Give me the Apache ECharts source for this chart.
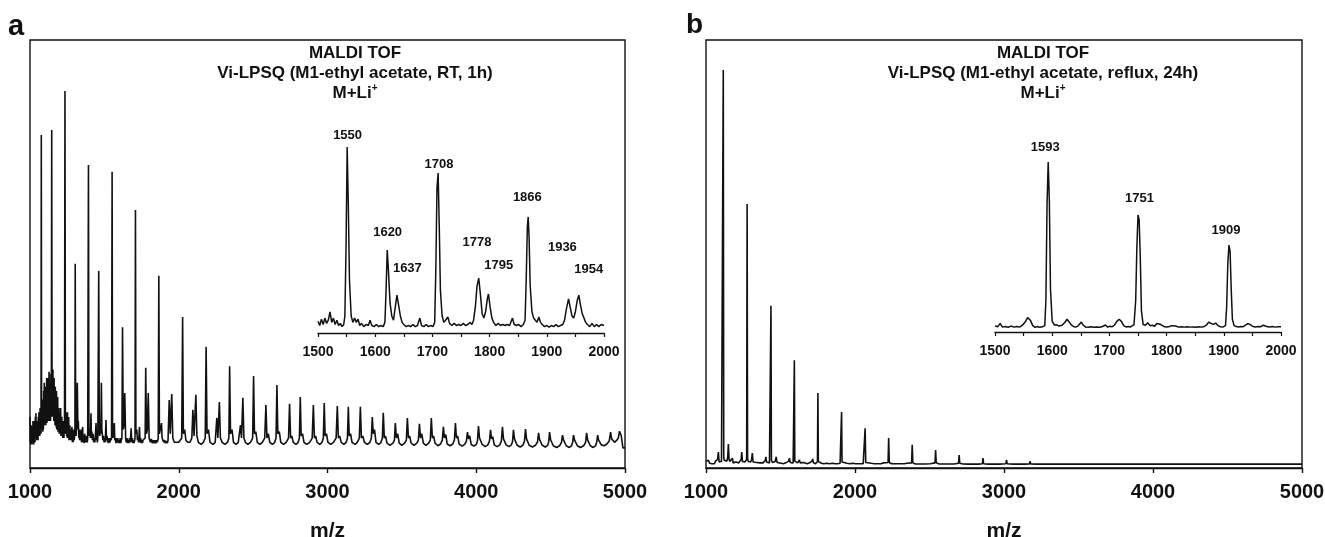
<!DOCTYPE html>
<html>
<head>
<meta charset="utf-8">
<script src="https://cdn.jsdelivr.net/npm/echarts@6/dist/echarts.min.js"></script>
<style>
  html, body { margin: 0; background: #fff; }
  #chart { width: 1325px; height: 537px; }
</style>
</head>
<body>
<div id="chart"></div>
<script>
// m/z axis ranges
const mainRange = [1000, 5000];
const mainStep = 1000;
const insetRange = [1500, 2000];
const insetStep = 100;

const titleA = ['MALDI TOF', 'Vi-LPSQ (M1-ethyl acetate, RT, 1h)', 'M+Li'];
const titleB = ['MALDI TOF', 'Vi-LPSQ (M1-ethyl acetate, reflux, 24h)', 'M+Li'];

// spectrum a, full range  [m/z, intensity]
const spectrumA = [
  [1000, 11.9], [1002, 6], [1004, 9], [1006, 5.5], [1008, 10], [1010, 6], [1012, 8], [1014, 5.5], [1016, 9.5], [1018, 6],
  [1020, 11], [1022, 6.5], [1024, 8], [1026, 5.5], [1028, 11], [1030, 6.5], [1032, 9], [1034, 6], [1036, 12], [1038, 7],
  [1040, 12.8], [1042, 7], [1044, 10], [1046, 6.5], [1048, 11], [1050, 7], [1052, 9], [1054, 6.5], [1056, 12], [1058, 7.5],
  [1060, 13], [1062, 8], [1064, 11], [1066, 7.5], [1068, 14], [1070, 8], [1072, 10], [1074, 8], [1076, 77.8], [1078, 9],
  [1080, 15], [1082, 9], [1084, 14], [1086, 8.5], [1088, 16], [1090, 9], [1092, 18], [1094, 10], [1096, 19.9], [1098, 10],
  [1100, 17], [1102, 11], [1104, 19], [1106, 10], [1108, 17.5], [1110, 11], [1112, 21], [1114, 10.5], [1116, 18], [1118, 12],
  [1120, 21], [1122, 11], [1124, 20], [1126, 12], [1128, 22.5], [1130, 11], [1132, 22], [1134, 12], [1136, 20], [1138, 11],
  [1140, 17], [1142, 12], [1143.5, 13], [1146, 79], [1148.5, 13], [1150, 22], [1152, 12], [1154, 23], [1156, 12], [1158, 20],
  [1160, 11], [1162, 21], [1164, 11], [1166, 18], [1168, 10], [1170, 19], [1172, 10], [1174, 17], [1176, 9.5], [1178, 18],
  [1180, 9], [1182, 15], [1184, 9], [1186, 16.6], [1188, 8.5], [1190, 13], [1192, 9], [1194, 14], [1196, 8], [1198, 12],
  [1200, 8], [1202, 13], [1204, 8], [1206, 14], [1208, 7.5], [1210, 11], [1212, 8], [1214, 12], [1216, 7.5], [1218, 10],
  [1220, 7], [1222, 11], [1224, 7.5], [1226, 10], [1228, 7], [1230, 9], [1232, 8], [1235, 88.1], [1238, 9], [1240, 12],
  [1242, 8], [1244, 13], [1246, 7.5], [1248, 11], [1250, 7], [1252, 13], [1254, 7], [1256, 10], [1258, 7], [1260, 11.9],
  [1262, 6.5], [1264, 9], [1266, 6.5], [1268, 10], [1270, 6.5], [1273, 9], [1276, 6.5], [1279, 8], [1282, 9.6], [1285, 6],
  [1288, 8], [1291, 6], [1294, 9], [1297, 6.5], [1300, 7.5], [1302, 8],
  [1304, 47.7], [1307, 10], [1310, 7.5], [1314, 12], [1318, 19.9], [1322, 9], [1325, 11], [1328, 7], [1331, 9], [1334, 6.5],
  [1337, 8.5], [1340, 6.5], [1343, 9], [1346, 6], [1350, 8], [1354, 9.6], [1357, 6], [1360, 7.5], [1364, 5.8], [1368, 8],
  [1372, 6], [1375, 7.5], [1378, 6], [1382, 7.5], [1385, 6], [1388, 7], [1390, 7], [1393, 70.8], [1396, 8], [1399, 7.5],
  [1402, 9], [1406, 7], [1410, 12.8], [1413, 7], [1416, 8.5], [1420, 6.5], [1424, 8], [1428, 6], [1432, 7], [1436, 6],
  [1440, 8], [1444, 10.5], [1447, 6.5], [1450, 7.5], [1453, 6], [1456, 7], [1458, 7], [1462, 46], [1466, 8], [1469, 7.5],
  [1472, 9], [1476, 8], [1480, 19.9], [1483, 9], [1486, 8], [1490, 6.5], [1494, 7.5], [1498, 6], [1502, 7], [1506, 6],
  [1511, 11.2], [1514, 6.5], [1518, 7.5], [1522, 6], [1526, 7], [1530, 5.8], [1534, 7], [1538, 6], [1542, 7], [1546, 6.5],
  [1548, 7], [1552, 69.2], [1555, 8], [1558, 7], [1562, 8.5], [1567, 10.5], [1570, 6.5], [1574, 7], [1578, 5.8], [1582, 7],
  [1586, 6], [1590, 7], [1594, 5.8], [1598, 6.5], [1602, 5.8], [1606, 7], [1610, 5.8], [1614, 6.5], [1618, 7],
  [1622, 32.9], [1627, 9], [1632, 10], [1637, 17.5], [1643, 7], [1647, 6], [1652, 7], [1656, 5.8], [1660, 6.5], [1664, 5.8],
  [1668, 7], [1672, 6], [1676, 7], [1680, 9.3], [1684, 6], [1688, 7], [1692, 5.8], [1696, 6.5], [1700, 5.8], [1704, 6.5],
  [1706, 7], [1709, 60.3], [1712, 8], [1718, 9], [1722, 6.5], [1726, 7], [1730, 6], [1736, 9.6], [1740, 6], [1744, 7],
  [1748, 5.8], [1752, 6.5], [1756, 5.8], [1760, 6.5], [1766, 6.5], [1774, 7], [1778, 23.4], [1783, 8], [1789, 9],
  [1795, 17.5], [1801, 7], [1805, 6.5], [1810, 6], [1816, 6.8], [1822, 5.8], [1828, 6.5], [1834, 5.8], [1840, 6.5], [1846, 5.8],
  [1852, 6.5], [1856, 6], [1862, 7], [1866, 44.9], [1870, 8], [1876, 8], [1884, 10.5], [1888, 7], [1893, 7], [1899, 6],
  [1905, 6.5], [1911, 5.8], [1918, 6.3], [1924, 5.8], [1928, 6.5],
  [1936, 15.9], [1943, 8], [1953, 17.3], [1960, 7], [1970, 6], [1985, 6], [2000, 6], [2012, 6], [2020, 7], [2026, 35.3],
  [2031, 8], [2040, 9], [2048, 6.5], [2060, 6], [2075, 6], [2088, 7], [2095, 13.6], [2103, 7.5], [2115, 17.1], [2122, 7.5],
  [2132, 6], [2150, 5.5], [2165, 6], [2178, 7], [2184, 28.3], [2190, 8], [2200, 9], [2210, 6], [2230, 5.5], [2245, 6],
  [2256, 11.7], [2263, 7], [2273, 15.4], [2280, 7], [2292, 6], [2310, 5.5], [2328, 6], [2337, 7], [2342, 23.8], [2348, 8],
  [2358, 9], [2368, 6], [2385, 5.5], [2400, 6], [2415, 10], [2422, 7], [2431, 16.4], [2438, 7], [2448, 6], [2465, 5.5],
  [2482, 6], [2497, 7], [2503, 21.5], [2509, 8], [2518, 8.5], [2528, 6], [2545, 5.5], [2562, 6], [2578, 7], [2586, 14.7],
  [2593, 7], [2602, 8], [2612, 6], [2630, 5.5], [2645, 6], [2654, 7], [2660, 19.4], [2666, 8], [2676, 8.5], [2686, 6],
  [2705, 5.5], [2722, 6], [2738, 7], [2745, 15], [2752, 7], [2760, 7.5], [2770, 6], [2788, 5.5], [2803, 6], [2811, 7],
  [2817, 16.6], [2823, 7.5], [2832, 8], [2842, 6], [2860, 5.5], [2880, 6], [2897, 7], [2905, 14.7], [2912, 7], [2920, 7.5],
  [2930, 6], [2948, 5.5], [2963, 6], [2972, 7], [2978, 15.2], [2984, 7.5], [2993, 8], [3003, 6], [3022, 5.5], [3040, 6],
  [3058, 7], [3066, 14.5], [3073, 7], [3082, 7.5], [3092, 6], [3110, 5.5], [3126, 6], [3134, 7], [3140, 14.3], [3146, 7.5],
  [3155, 8], [3165, 6], [3185, 5.5], [3200, 6], [3214, 7], [3221, 14.3], [3228, 7], [3237, 7.5], [3248, 6], [3268, 5.5],
  [3285, 6], [3295, 7], [3301, 11.9], [3308, 8], [3316, 9], [3326, 6], [3345, 5.5], [3360, 6], [3369, 7], [3375, 12.9],
  [3382, 7], [3390, 7.5], [3400, 5.8], [3420, 5.3], [3440, 5.8], [3450, 6.5], [3456, 10.5], [3463, 7], [3472, 8], [3482, 5.8],
  [3500, 5.3], [3518, 5.8], [3530, 6.5], [3537, 11.7], [3544, 7], [3552, 7.5], [3562, 5.8], [3582, 5.3], [3600, 5.8], [3611, 6.5],
  [3618, 10.3], [3625, 7], [3634, 8], [3644, 5.8], [3662, 5.3], [3680, 5.8], [3691, 6.5], [3698, 11.7], [3705, 7], [3713, 7.5],
  [3723, 5.8], [3742, 5.2], [3760, 5.6], [3772, 6.5], [3779, 9.6], [3786, 7], [3795, 7.8], [3805, 5.6], [3824, 5.2], [3842, 5.6],
  [3853, 6.5], [3860, 10.5], [3867, 7], [3875, 7.5], [3885, 5.6], [3905, 5.1], [3922, 5.5], [3934, 6.3], [3941, 8.4], [3948, 6.8],
  [3956, 7.5], [3966, 5.5], [3985, 5.1], [4000, 5.5], [4008, 6.3], [4015, 9.8], [4022, 7], [4030, 7.2], [4040, 5.5], [4060, 5.0],
  [4078, 5.4], [4089, 6.3], [4096, 8.9], [4103, 6.8], [4111, 7.3], [4121, 5.4], [4140, 5.0], [4158, 5.4], [4169, 6.3], [4176, 9.6],
  [4183, 6.8], [4191, 7.2], [4201, 5.4], [4220, 5.0], [4236, 5.4], [4244, 6.2], [4250, 8.9], [4257, 6.8], [4265, 7.2], [4275, 5.3],
  [4295, 4.9], [4313, 5.3], [4324, 6.2], [4331, 9.1], [4338, 6.8], [4346, 7.1], [4356, 5.3], [4378, 4.9], [4398, 5.3], [4412, 6.1],
  [4419, 8.2], [4426, 6.6], [4434, 7.0], [4444, 5.3], [4464, 4.9], [4480, 5.3], [4487, 6.1], [4493, 8.4], [4500, 6.6], [4508, 7.0],
  [4518, 5.2], [4540, 4.8], [4560, 5.2], [4573, 6.0], [4580, 7.7], [4587, 6.5], [4595, 6.9], [4605, 5.2], [4625, 4.8], [4640, 5.2],
  [4648, 6.0], [4654, 7.7], [4661, 6.5], [4669, 6.9], [4680, 5.2], [4700, 4.8], [4722, 5.2], [4735, 6.0], [4742, 8.2], [4749, 6.5],
  [4757, 6.9], [4767, 5.2], [4786, 4.8], [4802, 5.2], [4810, 6.0], [4816, 7.7], [4823, 6.5], [4831, 6.9], [4841, 5.4], [4860, 5.2],
  [4878, 5.6], [4894, 6.3], [4903, 8.4], [4910, 6.8], [4920, 7.2], [4930, 6.0], [4945, 6.5], [4955, 7.0], [4963, 8.6], [4975, 7.5],
  [4986, 4.7], [5000, 4.7]
];

// spectrum b, full range
const spectrumB = [
  [1000, 1.6], [1008, 1.2], [1016, 1.8], [1024, 1.1], [1032, 1.5], [1040, 1.0], [1048, 1.4], [1056, 1.0], [1064, 1.6], [1072, 1.2],
  [1078, 2], [1083, 3.7], [1088, 1.4], [1096, 1.2], [1104, 1.6], [1110, 1.3], [1113, 2], [1116, 93], [1119, 2.5], [1123, 1.8],
  [1128, 2], [1132, 1.4], [1140, 1.6], [1146, 2.5], [1150, 5.6], [1155, 2], [1160, 1.5], [1166, 1.3], [1172, 1.4], [1177, 2.3],
  [1182, 1.2], [1192, 1.1], [1200, 1.4], [1210, 1.0], [1220, 1.2], [1230, 1.3], [1236, 2], [1240, 3.7], [1245, 1.5], [1252, 1.2],
  [1260, 1.4], [1268, 1.2], [1273, 2], [1276, 61.7], [1279, 2.2], [1284, 1.5], [1290, 1.3], [1300, 1.4], [1306, 2], [1311, 3.5],
  [1316, 1.4], [1326, 1.1], [1340, 1.3], [1350, 1.0], [1362, 1.2], [1372, 1.0], [1384, 1.2], [1394, 1.3], [1398, 1.8], [1402, 2.6],
  [1406, 1.4], [1416, 1.1], [1426, 1.2], [1433, 1.6], [1436, 37.9], [1439, 1.8], [1446, 1.3], [1456, 1.2], [1464, 1.5], [1471, 2.6],
  [1477, 1.3], [1490, 1.0], [1505, 1.1], [1520, 1.0], [1535, 1.2], [1548, 1.1], [1555, 1.6], [1560, 2.3], [1565, 1.3], [1575, 1.0],
  [1585, 1.2], [1590, 1.6], [1593, 25.2], [1596, 1.6], [1604, 1.3], [1615, 1.2], [1622, 1.4], [1627, 1.9], [1632, 1.2], [1645, 1.1],
  [1655, 1.3], [1660, 1.6], [1665, 1.1], [1680, 1.0], [1695, 1.2], [1706, 1.2], [1711, 1.6], [1716, 2.1], [1721, 1.2], [1735, 1.0],
  [1745, 1.2], [1748, 1.5], [1751, 17.5], [1754, 1.5], [1762, 1.2], [1775, 1.1], [1783, 1.4], [1790, 1.0], [1810, 1.1], [1830, 1.0],
  [1850, 1.1], [1866, 1.0], [1873, 1.2], [1878, 1.4], [1884, 1.0], [1900, 1.1], [1907, 1.4], [1910, 13.1], [1913, 1.4], [1925, 1.0],
  [1945, 1.1], [1965, 1.0], [1985, 1.1], [2005, 1.0], [2025, 1.0], [2030, 1.1], [2035, 1.2], [2040, 1.0], [2055, 1.0], [2065, 1.3],
  [2068, 9.3], [2072, 1.3], [2085, 1.0], [2110, 1.1], [2130, 1.0], [2150, 1.0], [2175, 1.0], [2192, 1.2], [2200, 1.0], [2222, 1.3],
  [2226, 7], [2230, 1.3], [2245, 1.0], [2270, 1.0], [2300, 1.0], [2330, 1.0], [2349, 1.1], [2360, 0.95], [2380, 1.2], [2384, 5.4],
  [2388, 1.2], [2405, 0.95], [2440, 0.95], [2470, 0.95], [2505, 1.0], [2537, 1.2], [2541, 4.2], [2545, 1.2], [2565, 0.95], [2600, 0.95],
  [2640, 0.95], [2665, 0.95], [2695, 1.1], [2699, 3.0], [2703, 1.1], [2725, 0.95], [2760, 0.9], [2800, 0.95], [2830, 0.9], [2855, 1.0],
  [2859, 2.3], [2863, 1.0], [2890, 0.9], [2930, 0.95], [2970, 0.9], [3013, 1.0], [3017, 1.9], [3021, 1.0], [3060, 0.9], [3100, 0.95],
  [3140, 0.9], [3171, 0.95], [3175, 1.6], [3179, 0.95], [3220, 0.9], [3260, 0.9], [3300, 0.9], [3329, 0.95], [3333, 1.4], [3337, 0.95],
  [3380, 0.9], [3420, 0.9], [3460, 0.9], [3486, 0.95], [3490, 1.2], [3494, 0.9], [3550, 0.9], [3600, 0.9], [3646, 0.9], [3650, 1.05],
  [3654, 0.9], [3700, 0.9], [3800, 0.9], [3805, 1.0], [3810, 0.9], [3900, 0.9], [4000, 0.9], [4200, 0.9], [4400, 0.9], [4600, 0.9],
  [4800, 0.9], [5000, 0.9]
];

// inset a, 1500-2000
const insetA = [
  [1500, 5.5], [1503, 3.5], [1506, 6.5], [1509, 4], [1512, 7], [1515, 4.5], [1518, 6], [1521, 9.9], [1524, 5], [1527, 7],
  [1530, 4], [1533, 6], [1536, 3.5], [1539, 4.5], [1542, 3], [1545, 4], [1547, 8], [1549, 40], [1551, 87.3], [1553, 60],
  [1555, 25], [1558, 8], [1561, 5], [1564, 7], [1567, 5], [1570, 6.5], [1573, 3.5], [1576, 4.5], [1580, 3], [1584, 4],
  [1588, 3.5], [1591, 6], [1594, 3.5], [1598, 3], [1602, 4], [1606, 3], [1610, 3.5], [1614, 3], [1617, 5], [1619, 20],
  [1621, 39], [1623, 30], [1626, 14], [1629, 8], [1632, 6], [1635, 12], [1638, 17.8], [1641, 13], [1644, 8], [1647, 5],
  [1650, 4], [1654, 3], [1658, 3.5], [1662, 3], [1666, 4], [1670, 3], [1674, 3.5], [1678, 7], [1681, 3.5], [1685, 3],
  [1689, 4], [1693, 3], [1697, 3.5], [1701, 3], [1704, 5], [1706, 30], [1708, 68], [1710, 75.1], [1712, 50], [1714, 20],
  [1717, 8], [1720, 5], [1723, 6], [1727, 7.5], [1730, 4.5], [1734, 3.5], [1738, 4.5], [1742, 3.5], [1746, 4], [1750, 3.5],
  [1754, 4.5], [1758, 3.5], [1762, 4], [1766, 5], [1769, 4], [1772, 6], [1775, 12], [1778, 22], [1781, 25.8], [1784, 18],
  [1787, 9], [1790, 7], [1793, 10], [1796, 16], [1798, 18.3], [1801, 12], [1804, 7], [1807, 5], [1811, 3.5], [1815, 4.5],
  [1819, 3.5], [1823, 4], [1827, 3.5], [1831, 4], [1835, 3.5], [1840, 7], [1843, 4], [1847, 3.5], [1851, 4], [1855, 3],
  [1859, 4], [1862, 6], [1864, 25], [1866, 50], [1867.5, 54.5], [1869, 45], [1871, 22], [1874, 10], [1877, 7], [1880, 6],
  [1883, 5], [1886, 7.5], [1889, 5], [1892, 4], [1896, 3], [1900, 3.5], [1904, 2.8], [1908, 3.5], [1912, 3], [1916, 4],
  [1920, 3], [1924, 3.5], [1928, 4], [1931, 6], [1934, 11], [1938, 16], [1941, 12], [1944, 8], [1947, 7], [1950, 10],
  [1953, 15], [1956, 17.8], [1959, 13], [1962, 9], [1965, 7], [1968, 5], [1971, 4], [1975, 3], [1979, 4.5], [1983, 3],
  [1987, 4], [1991, 3], [1995, 4], [2000, 3.5]
];

// inset b, 1500-2000
const insetB = [
  [1500, 2.8], [1505, 2.5], [1509, 4.1], [1513, 2.3], [1518, 2.6], [1523, 2.2], [1528, 2.8], [1533, 2.3], [1538, 2.6], [1543, 2.3],
  [1548, 3.2], [1553, 4.8], [1557, 6.8], [1559, 7.2], [1562, 5.5], [1566, 3], [1570, 2.2], [1574, 2.6], [1578, 2.2], [1583, 2.5],
  [1587, 3], [1589, 15], [1591, 60], [1593, 80.2], [1595, 62], [1597, 20], [1600, 5], [1604, 3.3], [1608, 3.4], [1612, 2.8],
  [1617, 3.2], [1622, 4.5], [1626, 6], [1629, 5.5], [1633, 3.5], [1637, 2.6], [1641, 2.3], [1645, 2.8], [1648, 3.5], [1651, 4.7],
  [1654, 3.3], [1658, 2.4], [1663, 2.2], [1668, 2.5], [1673, 2.2], [1678, 2.4], [1683, 2.2], [1688, 2.6], [1693, 3.3], [1697, 2.3],
  [1701, 2.7], [1705, 2.5], [1709, 3.3], [1713, 5], [1717, 6], [1721, 5], [1725, 3], [1729, 2.4], [1733, 2.6], [1737, 2.4],
  [1743, 3.5], [1746, 15], [1748, 40], [1750, 55.2], [1752, 53], [1754, 35], [1756, 10], [1759, 3.5], [1763, 3.2], [1767, 4.4],
  [1771, 3], [1775, 3.2], [1779, 2.7], [1783, 4], [1786, 4.6], [1790, 3.5], [1795, 2.6], [1800, 2.4], [1805, 2.6], [1809, 3],
  [1812, 3.6], [1816, 2.8], [1821, 2.3], [1826, 2.5], [1831, 2.3], [1836, 2.5], [1841, 2.3], [1846, 2.4], [1851, 2.2], [1856, 2.5],
  [1861, 2.3], [1866, 2.6], [1870, 3.4], [1874, 4.7], [1878, 4.0], [1882, 3.6], [1886, 4.2], [1890, 3.0], [1894, 2.5], [1899, 2.4],
  [1903, 3], [1905, 12], [1907, 32], [1909, 41], [1911, 38], [1913, 20], [1915, 6], [1918, 3], [1922, 2.6], [1926, 2.4],
  [1930, 2.6], [1934, 2.5], [1938, 3.2], [1942, 3.9], [1946, 3.6], [1950, 2.7], [1955, 2.4], [1960, 2.6], [1965, 2.5], [1969, 3.2],
  [1972, 3.4], [1975, 2.6], [1980, 2.4], [1985, 2.6], [1990, 2.3], [1995, 2.5], [2000, 2.5]
];

// labelled peaks in the insets: m/z and apex height
const peaksA = [1550, 1620, 1637, 1708, 1778, 1795, 1866, 1936, 1954];
const peakHeightsA = [87.3, 39, 17.8, 75.1, 25.8, 18.3, 54.5, 16, 17.8];
const peaksB = [1593, 1751, 1909];
const peakHeightsB = [80.2, 55.2, 41];

// label offsets from the apex, px
const offsetsA = [[1, -12], [1, -18], [11, -27], [2, -9], [0, -36], [12, -29], [0, -19], [-5, -51], [11, -26]];
const offsetsB = [[-3, -15], [1, -17], [-3, -15]];

const FONT = '"Liberation Sans", Arial, Helvetica, sans-serif';
const INK = '#111';

function mainAxis(gridIndex) {
  return {
    type: 'value', gridIndex: gridIndex,
    min: mainRange[0], max: mainRange[1], interval: mainStep,
    axisLine: { lineStyle: { color: INK, width: 1.4 } },
    axisTick: { length: 5, lineStyle: { color: INK, width: 1.4 } },
    axisLabel: {
      fontFamily: FONT, fontSize: 20, fontWeight: 'bold', color: INK, margin: 14,
      showMinLabel: true, showMaxLabel: true, formatter: v => String(v)
    },
    splitLine: { show: false },
    name: 'm/z', nameLocation: 'middle', nameGap: 53,
    nameTextStyle: { fontFamily: FONT, fontSize: 21, fontWeight: 'bold', color: INK }
  };
}

function insetAxis(gridIndex) {
  return {
    type: 'value', gridIndex: gridIndex,
    min: insetRange[0], max: insetRange[1], interval: insetStep,
    axisLine: { lineStyle: { color: INK, width: 1.3 } },
    axisTick: { length: 4, lineStyle: { color: INK, width: 1.2 } },
    minorTick: { show: true, splitNumber: 2, length: 4, lineStyle: { color: INK, width: 1.2 } },
    axisLabel: {
      fontFamily: FONT, fontSize: 14, fontWeight: 'bold', color: INK, margin: 12,
      showMinLabel: true, showMaxLabel: true, formatter: v => String(v)
    },
    splitLine: { show: false }
  };
}

function hiddenY(gridIndex) {
  return { type: 'value', gridIndex: gridIndex, min: 0, max: 100, show: false };
}

function trace(data, idx, width) {
  return {
    type: 'line', data: data, xAxisIndex: idx, yAxisIndex: idx,
    showSymbol: false, symbol: 'none',
    lineStyle: { color: INK, width: width }
  };
}

function peakLabels(mz, h, offsets, idx) {
  return {
    type: 'scatter', xAxisIndex: idx, yAxisIndex: idx, symbolSize: 0,
    itemStyle: { opacity: 1 },
    data: mz.map((m, i) => ({
      value: [m, h[i]],
      label: {
        show: true, position: 'inside', offset: offsets[i], formatter: String(m),
        fontFamily: FONT, fontSize: 13, fontWeight: 'bold', color: INK, opacity: 1, textBorderWidth: 0
      }
    }))
  };
}

function heading(lines, x) {
  return {
    text: lines[0] + '\n' + lines[1] + '\n' + lines[2] + '{sup|+}',
    left: x, top: 38, textAlign: 'center',
    textStyle: {
      fontFamily: FONT, fontSize: 17, fontWeight: 'bold', color: INK, lineHeight: 20,
      rich: { sup: { fontFamily: FONT, fontSize: 10, fontWeight: 'bold', color: INK, lineHeight: 10, verticalAlign: 'top' } }
    }
  };
}

function box(left, top, width, height, frame) {
  return {
    left: left, top: top, width: width, height: height, outerBoundsMode: 'none', containLabel: false,
    show: frame, borderColor: INK, borderWidth: 1.4
  };
}

const chart = echarts.init(document.getElementById('chart'));
chart.setOption({
  animation: false,
  backgroundColor: '#fff',
  title: [heading(titleA, 350), heading(titleB, 1038)],
  graphic: [
    { type: 'text', left: 8, top: 12, style: { text: 'a', font: 'bold 29px ' + FONT, fill: INK } },
    { type: 'text', left: 686, top: 11, style: { text: 'b', font: 'bold 28px ' + FONT, fill: INK } }
  ],
  grid: [
    box(30, 40, 595, 428, true),
    box(706, 40, 596, 428, true),
    box(318, 120, 286, 213, false),
    box(995, 120, 286, 212, false)
  ],
  xAxis: [mainAxis(0), mainAxis(1), insetAxis(2), insetAxis(3)],
  yAxis: [hiddenY(0), hiddenY(1), hiddenY(2), hiddenY(3)],
  series: [
    trace(spectrumA, 0, 1.6),
    trace(spectrumB, 1, 1.6),
    trace(insetA, 2, 1.5),
    trace(insetB, 3, 1.5),
    peakLabels(peaksA, peakHeightsA, offsetsA, 2),
    peakLabels(peaksB, peakHeightsB, offsetsB, 3)
  ]
});
</script>
</body>
</html>
